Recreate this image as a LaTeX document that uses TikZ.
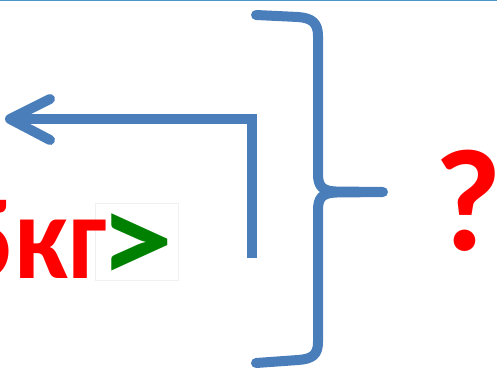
\documentclass[tikz,border=0pt]{standalone}
\usepackage{fontspec}
\setmainfont{Carlito}
\definecolor{brblue}{RGB}{74,126,187}
\definecolor{topblue}{RGB}{75,150,200}
\definecolor{qred}{RGB}{255,0,0}
\definecolor{gtgreen}{RGB}{0,128,0}
\begin{document}
\begin{tikzpicture}[x=1bp,y=-1bp,line width=10bp,
  blueline/.style={draw=brblue,line cap=round,line join=round},
  bigtext/.style={font=\fontsize{121}{121}\selectfont\bfseries,inner sep=0pt}]
\useasboundingbox (0,0) rectangle (497,368);
\clip (0,0) rectangle (497,368);
\draw[topblue,line width=1.5bp] (0,.5) -- (497,.5);
% weight and sign
\node[draw=black!6,line width=.8bp,fill=white,minimum width=83bp,minimum height=77bp] (gtbox) at (136.5,241.5) {};
\node[bigtext,text=qred,anchor=base east,xscale=.9,transform shape] (kg) at (111,278) {5кг};
\node[bigtext,font=\fontsize{130}{130}\selectfont\bfseries,text=gtgreen,anchor=base,xscale=1.15,transform shape] (gt) at (137,283) {>};
% arrow
\coordinate (ar-start) at (251.5,258);
\coordinate (ar-bend) at (251.5,119);
\coordinate (ar-end) at (10,119);
\draw[brblue,line join=miter] (ar-start) -- (ar-bend) -- (ar-end);
\draw[blueline] (ar-end) ++(40,-20) -- (ar-end) -- ++(40,21);
% brace
\coordinate (br-top) at (256,15);
\coordinate (br-tip) at (383,192);
\coordinate (br-bot) at (256,363);
\draw[blueline] (br-top) -- (298,17) .. controls (312,18) and (318,23) .. (318,36) -- (318,174)
  .. controls (318,186) and (322,191) .. (336,191.5) -- (br-tip) -- (336,192.5)
  .. controls (322,193) and (318,198) .. (318,210) -- (318,342)
  .. controls (318,355) and (312,359) .. (298,360) -- (br-bot);
\node[font=\fontsize{146}{146}\selectfont\bfseries,text=qred,inner sep=0pt,anchor=base] (q) at (468,250) {?};
\end{tikzpicture}
\end{document}
